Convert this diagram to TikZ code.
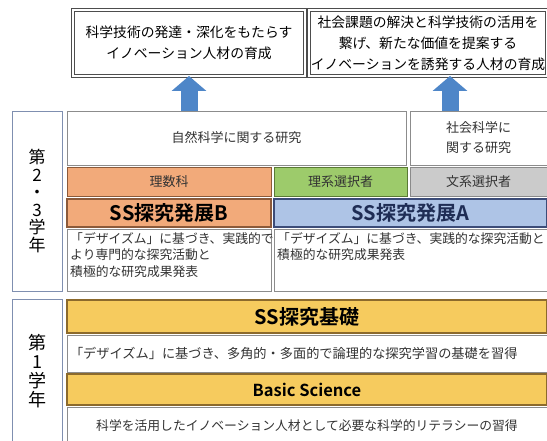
\documentclass[tikz,border=0pt]{standalone}
\usepackage{fontspec}
\setmainfont{Noto Sans CJK JP}[BoldFont={Noto Sans CJK JP Bold}]
\usetikzlibrary{positioning,arrows.meta}

\definecolor{frame}{HTML}{8C8C8C}
\definecolor{goalframe}{HTML}{4D4D4D}
\definecolor{yearframe}{HTML}{7F8FB0}
\definecolor{txt}{HTML}{333333}
\definecolor{orangefill}{HTML}{F2AA7A}
\definecolor{orangeframe}{HTML}{8C5A3A}
\definecolor{greenfill}{HTML}{9DCB6B}
\definecolor{greenframe}{HTML}{5A7A35}
\definecolor{grayfill}{HTML}{CBCBCB}
\definecolor{grayframe}{HTML}{8A8A8A}
\definecolor{bluefill}{HTML}{AEC4E6}
\definecolor{blueframe}{HTML}{3C4C78}
\definecolor{bluetxt}{HTML}{1F2D55}
\definecolor{goldfill}{HTML}{F6CB5E}
\definecolor{goldframe}{HTML}{8C6A2C}
\definecolor{arrowblue}{HTML}{4E86C8}

\begin{document}
\begin{tikzpicture}[x=1pt,y=-1pt,
    box/.style={rectangle,draw=frame,fill=white,line width=0.8pt,inner sep=0pt,outer sep=0pt,
      align=center,text=txt,font=\fontsize{13}{20}\selectfont},
    goal/.style={box,draw=goalframe,line width=1pt,double=white,double distance=1.3pt,
      text=black,font=\fontsize{13.8}{21}\selectfont},
    yearbox/.style={box,draw=yearframe,minimum width=50pt,text=black,font=\fontsize{17}{17.5}\selectfont},
    course/.style={box,minimum height=29pt,font=\fontsize{13}{16}\selectfont},
    head/.style={box,line width=1.2pt,text=black,font=\fontsize{20}{20}\bfseries},
    desc/.style={anchor=north west,inner sep=0pt,align=left,text=txt,font=\fontsize{12.8}{16.5}\selectfont},
    uparrow/.style={-{Triangle[width=34pt,length=15pt]},line width=17pt,draw=arrowblue}
  ]
  \useasboundingbox (0,0) rectangle (547,441);

  % Goals
  \node[goal,minimum width=232pt,minimum height=66pt,anchor=north west] (goalL) at (73,10)
    {科学技術の発達・深化をもたらす\\イノベーション人材の育成};
  \node[goal,minimum width=238pt,minimum height=66pt,right=4pt of goalL] (goalR)
    {社会課題の解決と科学技術の活用を\\繋げ、新たな価値を提案する\\イノベーションを誘発する人材の育成};

  % 2nd and 3rd year
  \node[yearbox,minimum height=180pt,anchor=north west] (year23) at (12,111) {第\\2\\・\\3\\学\\年};
  \node[box,minimum width=339pt,minimum height=54pt,anchor=north west] (natsci) at (67,111) {自然科学に関する研究};
  \node[box,minimum width=137pt,minimum height=54pt,right=4pt of natsci] (socsci) {社会科学に\\関する研究};

  \node[course,fill=orangefill,draw=orangeframe,minimum width=204pt,anchor=north west] (risu) at (67,167) {理数科};
  \node[course,fill=greenfill,draw=greenframe,minimum width=133pt,right=3pt of risu] (rikei) {理系選択者};
  \node[course,fill=grayfill,draw=grayframe,minimum width=137pt,right=3pt of rikei] (bunkei) {文系選択者};

  \node[head,fill=orangefill,draw=orangeframe,minimum width=204pt,minimum height=28pt,below=3pt of risu] (hattenB) {SS探究発展B};
  \node[head,fill=bluefill,draw=blueframe,text=bluetxt,minimum width=273pt,minimum height=28pt,right=3pt of hattenB] (hattenA) {SS探究発展A};

  \node[box,minimum width=204pt,minimum height=62pt,below=2pt of hattenB] (descB) {};
  \node[box,minimum width=273pt,minimum height=62pt,right=3pt of descB] (descA) {};
  \node[desc] (descBtext) at ([shift={(3,3)}]descB.north west)
    {「デザイズム」に基づき、実践的で\\より専門的な探究活動と\\積極的な研究成果発表};
  \node[desc] (descAtext) at ([shift={(3,3)}]descA.north west)
    {「デザイズム」に基づき、実践的な探究活動と\\積極的な研究成果発表};

  % 1st year
  \node[yearbox,minimum height=145pt,anchor=north west,font=\fontsize{18}{19}\selectfont] (year1) at (12,299) {第\\1\\学\\年};
  \node[head,fill=goldfill,draw=goldframe,minimum width=480pt,minimum height=33pt,anchor=north west] (kiso) at (67,300) {SS探究基礎};
  \node[box,text width=474pt,inner xsep=3pt,align=left,minimum height=37pt,below=2pt of kiso,
    font=\fontsize{13.2}{16}\selectfont] (kisodesc)
    {「デザイズム」に基づき、多角的・多面的で論理的な探究学習の基礎を習得};
  \node[head,fill=goldfill,draw=goldframe,minimum width=480pt,minimum height=31pt,below=2pt of kisodesc,
    font=\fontsize{16.5}{18}\bfseries] (basic) {Basic Science};
  \node[box,minimum width=480pt,minimum height=37pt,below=2pt of basic,font=\fontsize{12.8}{16}\selectfont] (basicdesc)
    {科学を活用したイノベーション人材として必要な科学的リテラシーの習得};

  % Arrows to the goals
  \coordinate (upR) at (450,111);
  \draw[uparrow] (natsci.north -| goalL.south) -- (goalL.south);
  \draw[uparrow] (upR) -- (upR |- goalR.south);
\end{tikzpicture}
\end{document}
